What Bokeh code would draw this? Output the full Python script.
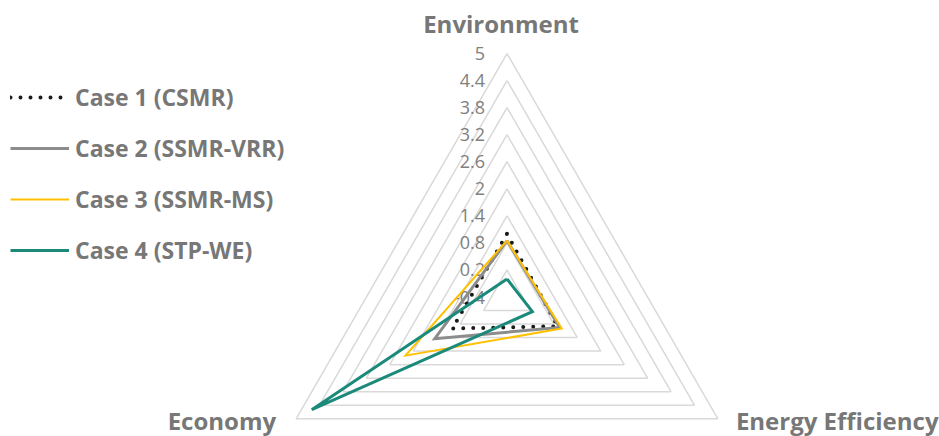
import numpy as np
from bokeh.plotting import figure
from bokeh.models import Range1d, Legend, LegendItem
from bokeh.core.properties import value
from bokeh.embed import file_html
from bokeh.resources import INLINE

# ---------------- data ----------------
axis_names = ["Environment", "Energy Efficiency", "Economy"]
tick_values = [-0.4, 0.2, 0.8, 1.4, 2.0, 2.6, 3.2, 3.8, 4.4, 5.0]
tick_labels = ["-0.4", "0.2", "0.8", "1.4", "2", "2.6", "3.2", "3.8", "4.4", "5"]
series_names = ["Case 1 (CSMR)", "Case 2 (SSMR-VRR)", "Case 3 (SSMR-MS)", "Case 4 (STP-WE)"]
case1 = [1.0, 0.9, 1.0]
case2 = [0.85, 0.95, 1.45]
case3 = [0.85, 1.0, 2.2]
case4 = [0.0, 0.25, 4.6]

# ---------------- layout ----------------
W, H = 939, 436
CX, CY, R = 506.5, 296.5, 243.5
VMIN, VMAX = tick_values[0], tick_values[-1]
angles = np.deg2rad([90, -30, 210])

def to_xy(vals):
    r = (np.asarray(vals, dtype=float) - VMIN) / (VMAX - VMIN) * R
    xs = CX + r * np.cos(angles)
    ys = CY - r * np.sin(angles)
    return list(xs) + [xs[0]], list(ys) + [ys[0]]

p = figure(width=W, height=H, x_range=Range1d(0, W), y_range=Range1d(H, 0),
           output_backend="svg", toolbar_location=None, min_border=0)
p.axis.visible = False
p.grid.visible = False
p.outline_line_color = None
p.background_fill_color = "white"
p.border_fill_color = "white"

# grid rings
ring_xs, ring_ys = [], []
for tv in tick_values[1:]:
    xs, ys = to_xy([tv] * 3)
    ring_xs.append(xs)
    ring_ys.append(ys)
p.multi_line(ring_xs, ring_ys, line_color="#d9d9d9", line_width=1.5)

# tick labels along the Environment axis
tick_y = [CY - (tv - VMIN) / (VMAX - VMIN) * R for tv in tick_values]
p.text(x=[CX - 22] * len(tick_values), y=tick_y, text=tick_labels,
       text_align="right", text_baseline="middle",
       text_font=value("Open Sans"), text_font_size="18px", text_color="#808080")

# series
styles = [
    dict(line_color="#1a1a1a", line_width=4, line_dash="0 10", line_cap="round"),
    dict(line_color="#8c8c8c", line_width=3, line_join="miter"),
    dict(line_color="#ffc000", line_width=2, line_join="miter"),
    dict(line_color="#1b8a7a", line_width=3, line_join="miter"),
]
items = []
for name, vals, st in zip(series_names, [case1, case2, case3, case4], styles):
    xs, ys = to_xy(vals)
    rr = p.line(xs, ys, **st)
    items.append(LegendItem(label=name, renderers=[rr]))

# axis category labels
vx, vy = to_xy([VMAX] * 3)
lab_x = [vx[0] - 6, vx[1] + 18, vx[2] - 20]
lab_y = [vy[0] - 30.5, vy[1] + 1.5, vy[2] + 1.5]
p.text(x=lab_x, y=lab_y, text=axis_names,
       text_align=["center", "left", "right"], text_baseline="middle",
       text_font=value("Open Sans"), text_font_style="bold",
       text_font_size="24px", text_color="#777777")

legend = Legend(items=items, location=(10, 170), orientation="vertical",
                glyph_width=59, glyph_height=20, label_height=20,
                label_standoff=6, spacing=19, padding=0, margin=0,
                border_line_color=None, background_fill_alpha=0,
                label_text_font="Open Sans", label_text_font_style="bold",
                label_text_font_size="23px", label_text_color="#777777")
p.add_layout(legend)

open("out.html", "w").write(file_html(p, INLINE))
